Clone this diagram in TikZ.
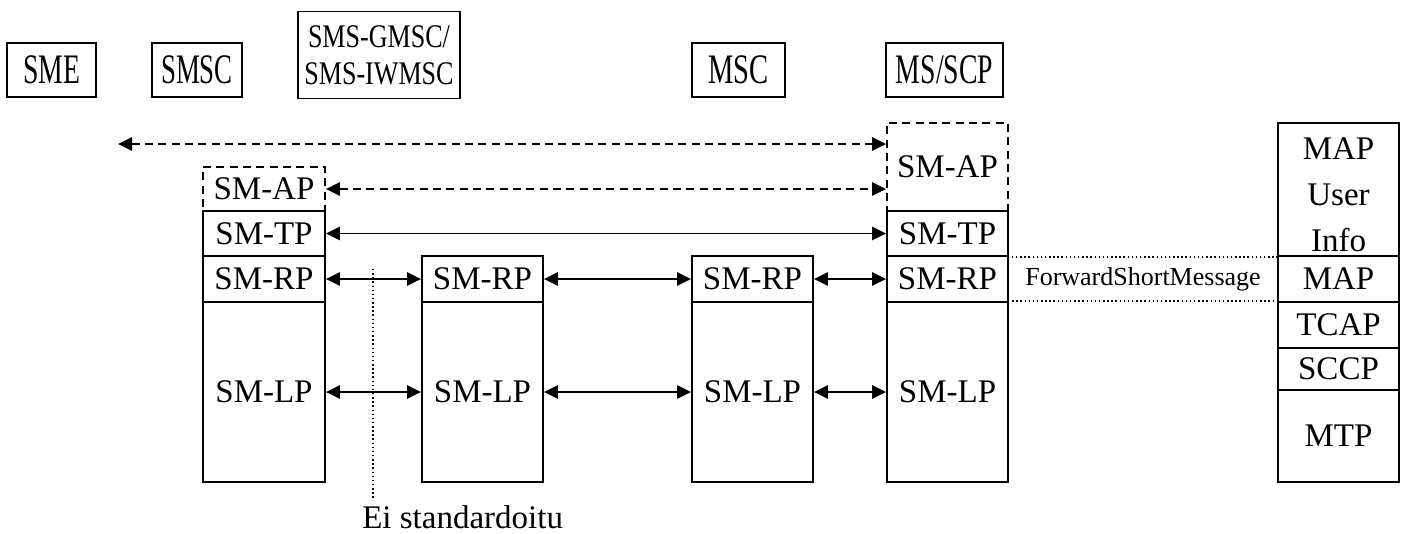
\documentclass[tikz,border=0pt]{standalone}
\usepackage{fontspec}
\setmainfont{Liberation Serif}
\usetikzlibrary{arrows.meta}
\begin{document}
\begin{tikzpicture}[x=0.75pt,y=-0.75pt,
  >={Triangle[length=10.5pt,width=10pt]},
  lay/.style={draw, line width=1.4pt, inner sep=0pt, align=center,
    font=\fontsize{24.75}{34.5}\selectfont},
  dlay/.style={lay, dash pattern=on 6pt off 4pt},
  topbox/.style={draw, line width=1.4pt, inner sep=0pt, align=center,
    font=\fontsize{31.5}{28}\selectfont},
  conn/.style={<->, line width=1.3pt},
  dconn/.style={<->, line width=1.3pt, dash pattern=on 6pt off 4pt},
  fwdbox/.style={draw, dotted, line width=1.1pt, inner sep=0pt,
    font=\fontsize{19.5}{22}\selectfont},
  note/.style={inner sep=0pt, font=\fontsize{24.75}{30}\selectfont}
]
\useasboundingbox (0,0) rectangle (1403,533);

% top boxes
\node[topbox, minimum width=66.75pt, minimum height=40.5pt] (sme) at (51.5,70) {\scalebox{0.66}[1]{SME}};
\node[topbox, minimum width=67.5pt, minimum height=40.5pt] (smsc) at (197,70) {\scalebox{0.64}[1]{SMSC}};
\node[topbox, minimum width=121.5pt, minimum height=65.25pt,
  font=\fontsize{24.75}{28}\selectfont] (gmsc) at (379,55) {\scalebox{0.79}[1]{SMS-GMSC/}\\\scalebox{0.79}[1]{SMS-IWMSC}};
\node[topbox, minimum width=69.75pt, minimum height=40.5pt] (msc) at (738.5,70) {\scalebox{0.68}[1]{MSC}};
\node[topbox, minimum width=87.75pt, minimum height=40.5pt] (ms) at (944.5,70) {\scalebox{0.66}[1]{MS/SCP}};

% stack A (SMSC)
\node[dlay, minimum width=91.5pt, minimum height=33pt] (aAP) at (264,189) {SM-AP};
\node[lay, minimum width=91.5pt, minimum height=33.75pt] (aTP) at (264,233.5) {SM-TP};
\node[lay, minimum width=91.5pt, minimum height=34.5pt] (aRP) at (264,279) {SM-RP};
\node[lay, minimum width=91.5pt, minimum height=135pt] (aLP) at (264,392) {SM-LP};

% stack B
\node[lay, minimum width=90.75pt, minimum height=34.5pt] (bRP) at (482.5,279) {SM-RP};
\node[lay, minimum width=90.75pt, minimum height=135pt] (bLP) at (482.5,392) {SM-LP};

% stack C
\node[lay, minimum width=90.75pt, minimum height=34.5pt] (cRP) at (752.5,279) {SM-RP};
\node[lay, minimum width=90.75pt, minimum height=135pt] (cLP) at (752.5,392) {SM-LP};

% stack D (MS/SCP)
\node[dlay, minimum width=90.75pt, minimum height=66pt] (dAP) at (947.5,167) {SM-AP};
\node[lay, minimum width=90.75pt, minimum height=33.75pt] (dTP) at (947.5,233.5) {SM-TP};
\node[lay, minimum width=90.75pt, minimum height=34.5pt] (dRP) at (947.5,279) {SM-RP};
\node[lay, minimum width=90.75pt, minimum height=135pt] (dLP) at (947.5,392) {SM-LP};

% stack E (MAP)
\node[lay, minimum width=90.75pt, minimum height=99.75pt,
  label={[align=center, inner sep=0pt, font=\fontsize{24.75}{34.5}\selectfont, yshift=-4pt]center:{MAP\\User\\Info}}] (eUI) at (1338.5,189.5) {};
\node[lay, minimum width=90.75pt, minimum height=34.5pt] (eMAP) at (1338.5,279) {MAP};
\node[lay, minimum width=90.75pt, minimum height=34.5pt] (eTCAP) at (1338.5,325) {TCAP};
\node[lay, minimum width=90.75pt, minimum height=31.5pt] (eSCCP) at (1338.5,369) {SCCP};
\node[lay, minimum width=90.75pt, minimum height=69pt] (eMTP) at (1338.5,436) {MTP};

% ForwardShortMessage
\node[fwdbox, minimum width=202.5pt, minimum height=33pt] (fwd) at (1143,279) {ForwardShortMessage};

% connectors
\coordinate (topL) at (118,144);
\draw[dconn] (topL) -- (dAP.west |- topL);
\draw[dconn] (aAP.east) -- (dAP.west |- aAP.east);
\draw[conn] (aTP.east) -- (dTP.west);
\draw[conn] (aRP.east) -- (bRP.west);
\draw[conn] (bRP.east) -- (cRP.west);
\draw[conn] (cRP.east) -- (dRP.west);
\draw[conn] (aLP.east) -- (bLP.west);
\draw[conn] (bLP.east) -- (cLP.west);
\draw[conn] (cLP.east) -- (dLP.west);

% note
\node[note, anchor=base west] (ei) at (362,528) {Ei standardoitu};
\coordinate (eiTop) at (373,269);
\draw[dotted, line width=1.1pt] (eiTop) -- ([yshift=4pt]eiTop |- ei.north);
\end{tikzpicture}
\end{document}
